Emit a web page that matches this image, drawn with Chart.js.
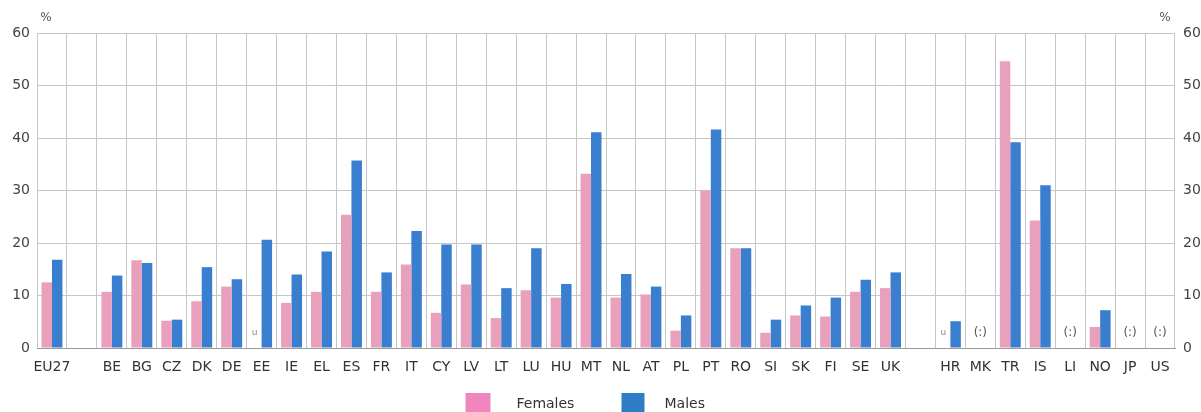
<!DOCTYPE html>
<html>
<head>
<meta charset="utf-8">
<script src="https://cdn.jsdelivr.net/npm/chart.js@4/dist/chart.umd.min.js"></script>
<style>
  body { margin: 0; background: #fff; overflow: hidden; }
  #wrap { width: 1201px; height: 412px; position: relative; }
</style>
</head>
<body>
<div id="wrap"><canvas id="myChart"></canvas></div>
<script>
var countries = ['EU27', '', 'BE', 'BG', 'CZ', 'DK', 'DE', 'EE', 'IE', 'EL', 'ES', 'FR', 'IT', 'CY', 'LV', 'LT', 'LU', 'HU', 'MT', 'NL', 'AT', 'PL', 'PT', 'RO', 'SI', 'SK', 'FI', 'SE', 'UK', '', 'HR', 'MK', 'TR', 'IS', 'LI', 'NO', 'JP', 'US'];
var females = [12.5, null, 10.7, 16.7, 5.2, 8.9, 11.7, null, 8.6, 10.7, 25.4, 10.7, 15.9, 6.7, 12.1, 5.7, 11.0, 9.6, 33.2, 9.6, 10.2, 3.3, 30.0, 19.0, 2.9, 6.2, 6.0, 10.7, 11.4, null, null, null, 54.6, 24.3, null, 4.0, null, null];
var males = [16.8, null, 13.8, 16.2, 5.4, 15.4, 13.1, 20.6, 14.0, 18.4, 35.7, 14.4, 22.3, 19.7, 19.7, 11.4, 19.0, 12.2, 41.1, 14.1, 11.7, 6.2, 41.6, 19.0, 5.4, 8.1, 9.6, 13.0, 14.4, null, 5.1, null, 39.2, 31.0, null, 7.2, null, null];
var yTicks = [0, 10, 20, 30, 40, 50, 60];
// flags shown inside the plot: u = unreliable, (:) = not available
var flagCountries = ['EE', 'HR', 'MK', 'LI', 'JP', 'US'];
var flagTexts = ['u', 'u', '(:)', '(:)', '(:)', '(:)'];

var pinkBar = '#e9a0bd';
var blueBar = '#3a7ecf';

var ctx = document.getElementById('myChart').getContext('2d');

var extras = {
	id: 'extras',
	afterDatasetsDraw: function(chart) {
		var c = chart.ctx;
		var x = chart.scales.x;
		var y = chart.scales.y;
		c.save();
		c.textAlign = 'center';
		c.textBaseline = 'middle';
		for (var i = 0; i < flagCountries.length; i++) {
			var idx = countries.indexOf(flagCountries[i]);
			var px = x.getPixelForValue(idx);
			if (flagTexts[i] == 'u') {
				c.font = '9px "DejaVu Sans"';
				c.fillStyle = '#888';
				c.fillText('u', px - 7, y.getPixelForValue(3));
			} else {
				c.font = '12px "DejaVu Sans"';
				c.fillStyle = '#555';
				c.fillText('(:)', px, y.getPixelForValue(2.9));
			}
		}
		// % labels over both axes
		c.font = '12px "DejaVu Sans"';
		c.fillStyle = '#555';
		c.fillText('%', 46, 18);
		c.fillText('%', 1165, 18);
		// legend
		var lx = chart.width / 2;
		c.textAlign = 'left';
		c.font = '14px "DejaVu Sans"';
		c.fillStyle = '#f086bd';
		c.fillRect(lx - 135, 393, 25, 22);
		c.fillStyle = '#333';
		c.fillText('Females', lx - 84, 404);
		c.fillStyle = '#2f7cc6';
		c.fillRect(lx + 21, 393, 23, 22);
		c.fillStyle = '#333';
		c.fillText('Males', lx + 64, 404);
		c.restore();
	}
};

new Chart(ctx, {
	type: 'bar',
	data: {
		labels: countries,
		datasets: [
		{
			label: 'Females',
			data: females,
			backgroundColor: pinkBar,
			categoryPercentage: 0.7,
			barPercentage: 1.0
		},
		{
			label: 'Males',
			data: males,
			backgroundColor: blueBar,
			categoryPercentage: 0.7,
			barPercentage: 1.0
		}
		]
	},
	options: {
		responsive: true,
		maintainAspectRatio: false,
		animation: false,
		layout: { padding: { top: 33, left: 0, right: 0, bottom: 0 } },
		plugins: {
			legend: { display: false },
			tooltip: { enabled: false }
		},
		scales: {
			x: {
				grid: { color: '#c6c6c6', drawTicks: false, offset: true },
				border: { color: '#9a9a9a' },
				ticks: {
					color: '#333',
					font: { family: 'DejaVu Sans', size: 14 },
					padding: 11,
					maxRotation: 0,
					autoSkip: false
				},
				afterFit: function(scale) { scale.height = 64; }
			},
			y: {
				min: 0,
				max: 60,
				afterBuildTicks: function(scale) { scale.ticks = yTicks.map(function(v) { return { value: v }; }); },
				grid: { color: '#c6c6c6', drawTicks: false },
				border: { display: false },
				ticks: { color: '#444', font: { family: 'DejaVu Sans', size: 14 }, padding: 7 },
				afterFit: function(scale) { scale.width = 37; }
			},
			y2: {
				position: 'right',
				min: 0,
				max: 60,
				afterBuildTicks: function(scale) { scale.ticks = yTicks.map(function(v) { return { value: v }; }); },
				grid: { display: false, drawTicks: false },
				border: { display: false },
				ticks: { color: '#444', font: { family: 'DejaVu Sans', size: 14 }, padding: 8 },
				afterFit: function(scale) { scale.width = 26; }
			}
		}
	},
	plugins: [extras]
});
</script>
</body>
</html>
